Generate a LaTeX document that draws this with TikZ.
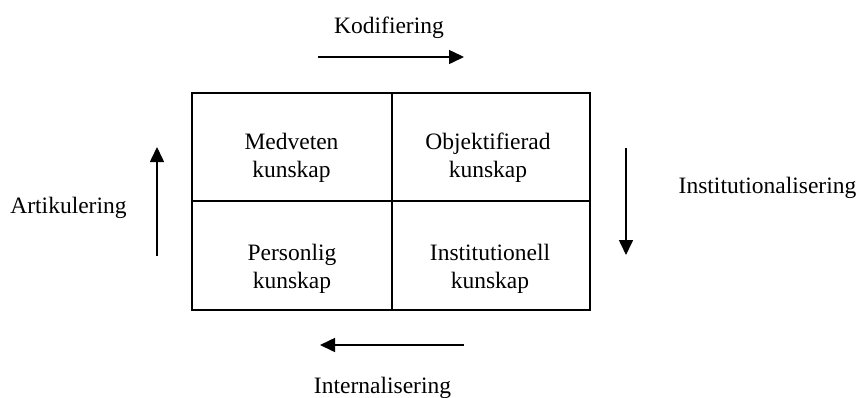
\documentclass[tikz,border=0pt]{standalone}
\usepackage{fontspec}
\setmainfont{Liberation Serif}
\usetikzlibrary{arrows.meta}
\begin{document}
\begin{tikzpicture}[x=1pt,y=-1pt,
  every node/.style={inner sep=0pt,font=\fontsize{23.5}{28}\selectfont},
  cell/.style={align=center},
  label/.style={anchor=base},
  grid/.style={line width=2pt},
  flow/.style={line width=1.6pt,-{Triangle[length=15pt,width=14pt]}}]
  \useasboundingbox (0,0) rectangle (858,397);

  % the four-field matrix
  \draw[grid] (192,93) rectangle (590,309.5);
  \draw[grid] (391.5,93) -- (391.5,309.5);
  \draw[grid] (192,200.5) -- (590,200.5);

  \node[cell] (medv) at (291.5,157.5) {Medveten\\kunskap};
  \node[cell] (obj)  at (488,157.5) {Objektifierad\\kunskap};
  \node[cell] (pers) at (292,268.5) {Personlig\\kunskap};
  \node[cell] (inst) at (490,268.5) {Institutionell\\kunskap};

  % process labels
  \node[label] (kod) at (389,33) {Kodifiering};
  \node[label] (art) at (68.5,213) {Artikulering};
  \node[label] (instl) at (767.5,193) {Institutionalisering};
  \node[label] (intl) at (382.5,393) {Internalisering};

  % arrow end points
  \coordinate (kodA) at (318,57);
  \coordinate (kodB) at (464,57);
  \coordinate (artA) at (157,256);
  \coordinate (artB) at (157,147);
  \coordinate (instA) at (626,148);
  \coordinate (instB) at (626,255);
  \coordinate (intA) at (464,345);
  \coordinate (intB) at (320,345);

  \draw[flow] (kodA) -- (kodB);
  \draw[flow] (artA) -- (artB);
  \draw[flow] (instA) -- (instB);
  \draw[flow] (intA) -- (intB);
\end{tikzpicture}
\end{document}
